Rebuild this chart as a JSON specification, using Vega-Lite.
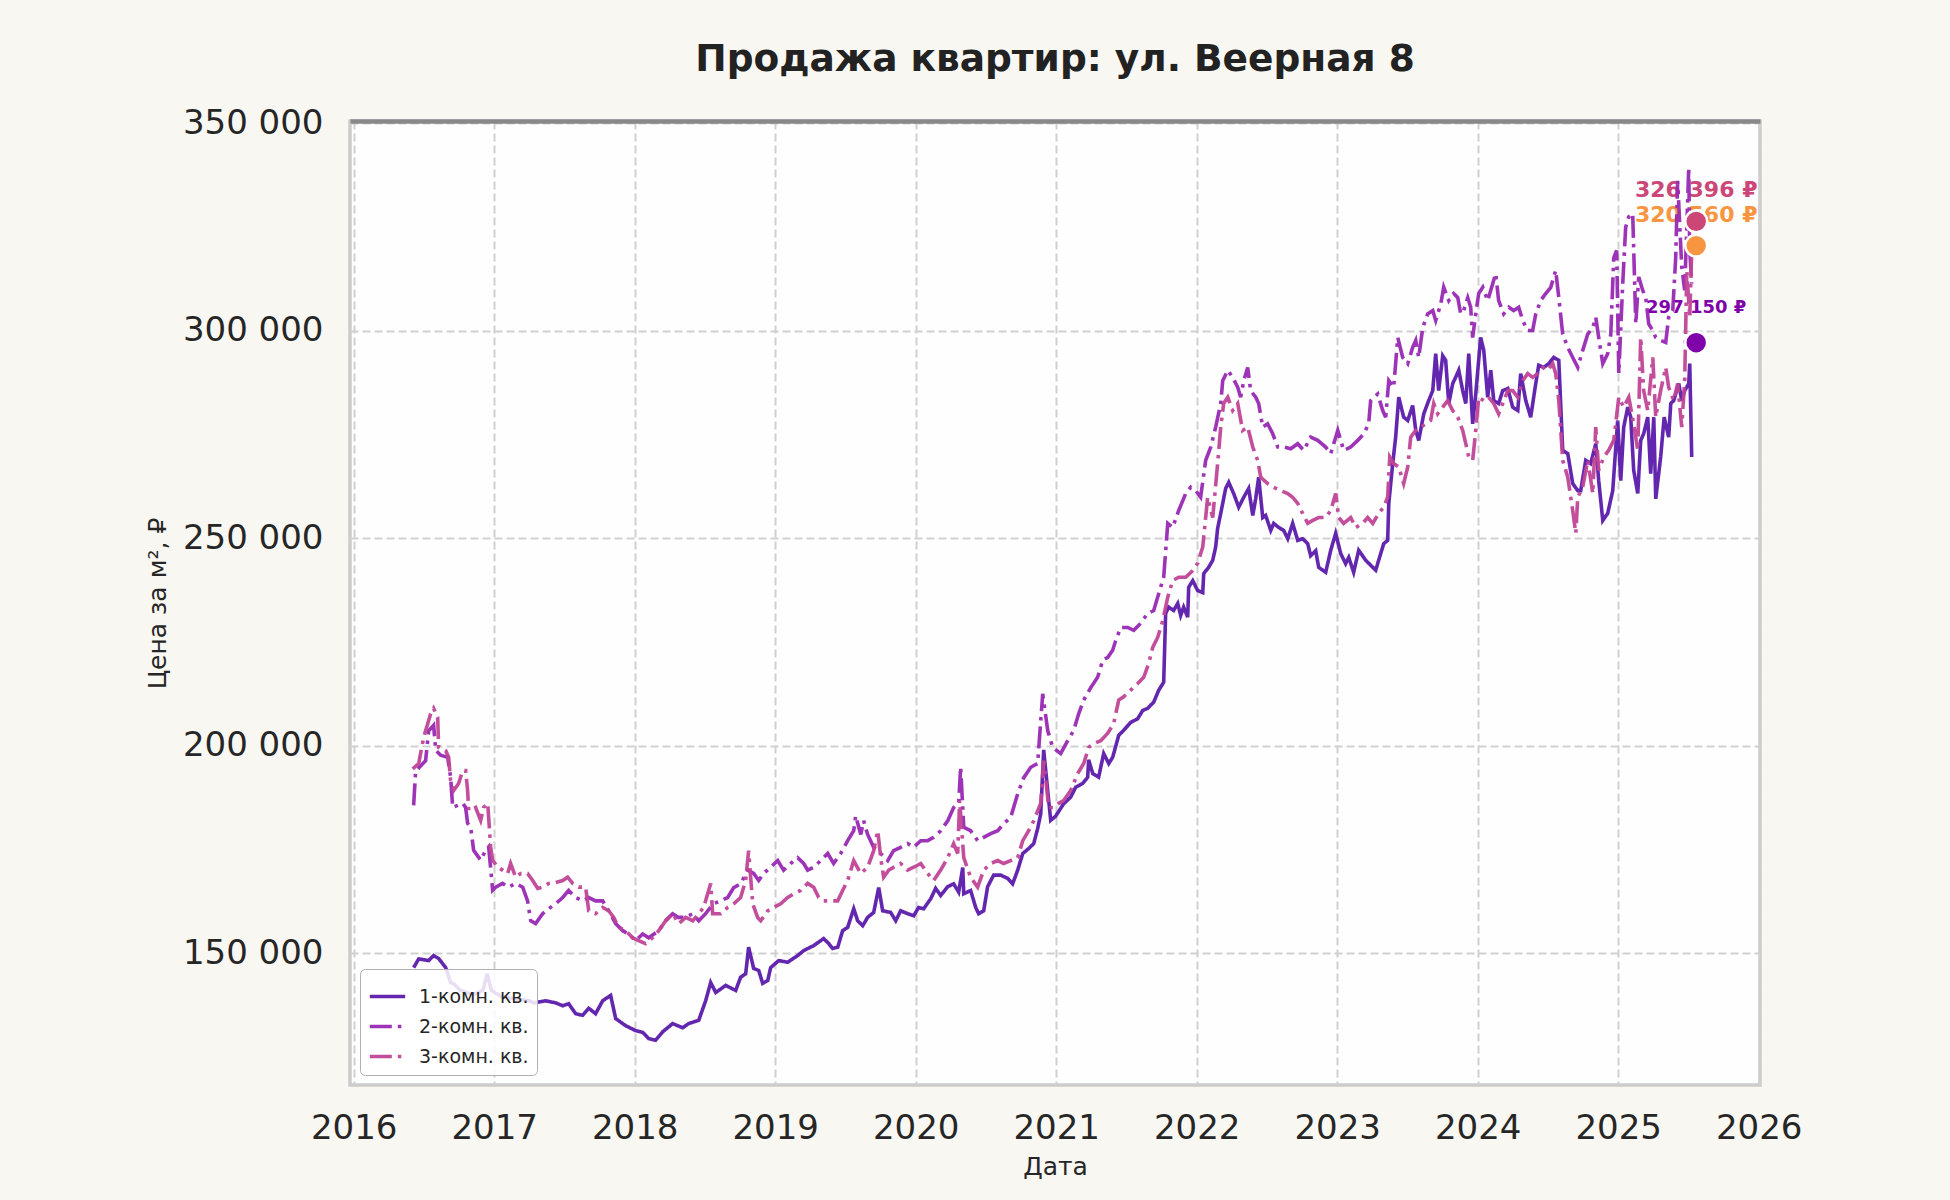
{
"$schema":"https://vega.github.io/schema/vega-lite/v6.json",
"width":1410,"height":964,
"autosize":{"type":"none"},
"padding":{"left":350,"top":121,"right":190,"bottom":115},
"background":"#f8f7f2",
"config":{
 "font":"DejaVu Sans",
 "locale":{"number":{"decimal":".","thousands":" ","grouping":[3],"currency":["","₽"]}},
 "view":{"fill":"#fefefe","stroke":"#cccccc","strokeWidth":3.5},
 "axis":{"domain":false,"ticks":false,"labelFont":"DejaVu Sans","labelColor":"#262626","labelFontSize":34,"titleFont":"DejaVu Sans","titleFontSize":25,"titleFontWeight":"normal","titleColor":"#262626"},
 "legend":{"orient":"bottom-left","offset":10,"symbolType":"stroke","symbolSize":1250,"symbolStrokeWidth":3.4,"labelFontSize":19,"labelFont":"DejaVu Sans","labelColor":"#262626","fillColor":"rgba(255,255,255,0.85)","strokeColor":"#b0b0b0","padding":8,"cornerRadius":5,"rowPadding":0,"labelOffset":12}
},
"title":{"text":"Продажа квартир: ул. Веерная 8","font":"DejaVu Sans","fontSize":37.5,"fontWeight":"bold","color":"#222222","anchor":"middle","frame":"group","baseline":"alphabetic","offset":-2},
"datasets":{
"last":[
{"year":2025.555,"price":326396,"label":"326 396 ₽"},
{"year":2025.555,"price":320560,"label":"320 560 ₽"},
{"year":2025.555,"price":297150,"label":"297 150 ₽"}
],
"prices":[
{"series":"1-комн. кв.","year":2016.427,"price":146500},
{"series":"1-комн. кв.","year":2016.463,"price":148600},
{"series":"1-комн. кв.","year":2016.534,"price":148200},
{"series":"1-комн. кв.","year":2016.569,"price":149400},
{"series":"1-комн. кв.","year":2016.605,"price":148700},
{"series":"1-комн. кв.","year":2016.655,"price":146500},
{"series":"1-комн. кв.","year":2016.69,"price":142900},
{"series":"1-комн. кв.","year":2016.712,"price":142600},
{"series":"1-комн. кв.","year":2016.76,"price":141000},
{"series":"1-комн. кв.","year":2016.85,"price":140000},
{"series":"1-комн. кв.","year":2016.92,"price":141000},
{"series":"1-комн. кв.","year":2016.95,"price":145000},
{"series":"1-комн. кв.","year":2016.98,"price":141000},
{"series":"1-комн. кв.","year":2017.05,"price":139500},
{"series":"1-комн. кв.","year":2017.15,"price":139000},
{"series":"1-комн. кв.","year":2017.25,"price":138500},
{"series":"1-комн. кв.","year":2017.281,"price":138000},
{"series":"1-комн. кв.","year":2017.367,"price":138500},
{"series":"1-комн. кв.","year":2017.438,"price":138000},
{"series":"1-комн. кв.","year":2017.488,"price":137300},
{"series":"1-комн. кв.","year":2017.53,"price":137800},
{"series":"1-комн. кв.","year":2017.58,"price":135400},
{"series":"1-комн. кв.","year":2017.63,"price":135000},
{"series":"1-комн. кв.","year":2017.673,"price":136700},
{"series":"1-комн. кв.","year":2017.722,"price":135400},
{"series":"1-комн. кв.","year":2017.772,"price":138500},
{"series":"1-комн. кв.","year":2017.829,"price":139800},
{"series":"1-комн. кв.","year":2017.865,"price":134200},
{"series":"1-комн. кв.","year":2017.936,"price":132500},
{"series":"1-комн. кв.","year":2018.007,"price":131300},
{"series":"1-комн. кв.","year":2018.057,"price":130900},
{"series":"1-комн. кв.","year":2018.1,"price":129400},
{"series":"1-комн. кв.","year":2018.149,"price":129000},
{"series":"1-комн. кв.","year":2018.199,"price":131000},
{"series":"1-комн. кв.","year":2018.27,"price":133000},
{"series":"1-комн. кв.","year":2018.342,"price":132000},
{"series":"1-комн. кв.","year":2018.384,"price":133000},
{"series":"1-комн. кв.","year":2018.456,"price":133800},
{"series":"1-комн. кв.","year":2018.505,"price":138500},
{"series":"1-комн. кв.","year":2018.541,"price":142900},
{"series":"1-комн. кв.","year":2018.577,"price":140500},
{"series":"1-комн. кв.","year":2018.648,"price":142200},
{"series":"1-комн. кв.","year":2018.719,"price":141000},
{"series":"1-комн. кв.","year":2018.754,"price":144200},
{"series":"1-комн. кв.","year":2018.79,"price":145000},
{"series":"1-комн. кв.","year":2018.811,"price":151400},
{"series":"1-комн. кв.","year":2018.847,"price":146300},
{"series":"1-комн. кв.","year":2018.883,"price":145800},
{"series":"1-комн. кв.","year":2018.911,"price":142700},
{"series":"1-комн. кв.","year":2018.947,"price":143400},
{"series":"1-комн. кв.","year":2018.968,"price":146500},
{"series":"1-комн. кв.","year":2019.025,"price":148200},
{"series":"1-комн. кв.","year":2019.089,"price":147800},
{"series":"1-комн. кв.","year":2019.16,"price":149400},
{"series":"1-комн. кв.","year":2019.203,"price":150600},
{"series":"1-комн. кв.","year":2019.274,"price":151800},
{"series":"1-комн. кв.","year":2019.345,"price":153500},
{"series":"1-комн. кв.","year":2019.381,"price":152300},
{"series":"1-комн. кв.","year":2019.409,"price":151100},
{"series":"1-комн. кв.","year":2019.445,"price":151400},
{"series":"1-комн. кв.","year":2019.48,"price":155400},
{"series":"1-комн. кв.","year":2019.516,"price":156200},
{"series":"1-комн. кв.","year":2019.559,"price":160700},
{"series":"1-комн. кв.","year":2019.587,"price":157800},
{"series":"1-комн. кв.","year":2019.623,"price":156600},
{"series":"1-комн. кв.","year":2019.658,"price":158600},
{"series":"1-комн. кв.","year":2019.701,"price":159800},
{"series":"1-комн. кв.","year":2019.737,"price":165800},
{"series":"1-комн. кв.","year":2019.765,"price":160200},
{"series":"1-комн. кв.","year":2019.822,"price":159800},
{"series":"1-комн. кв.","year":2019.858,"price":157800},
{"series":"1-комн. кв.","year":2019.893,"price":160200},
{"series":"1-комн. кв.","year":2019.943,"price":159500},
{"series":"1-комн. кв.","year":2019.986,"price":159000},
{"series":"1-комн. кв.","year":2020.021,"price":161000},
{"series":"1-комн. кв.","year":2020.057,"price":160700},
{"series":"1-комн. кв.","year":2020.107,"price":163100},
{"series":"1-комн. кв.","year":2020.142,"price":165600},
{"series":"1-комн. кв.","year":2020.178,"price":163900},
{"series":"1-комн. кв.","year":2020.228,"price":166000},
{"series":"1-комн. кв.","year":2020.27,"price":166700},
{"series":"1-комн. кв.","year":2020.306,"price":164700},
{"series":"1-комн. кв.","year":2020.335,"price":170600},
{"series":"1-комн. кв.","year":2020.342,"price":164300},
{"series":"1-комн. кв.","year":2020.391,"price":165100},
{"series":"1-комн. кв.","year":2020.427,"price":161000},
{"series":"1-комн. кв.","year":2020.448,"price":159500},
{"series":"1-комн. кв.","year":2020.484,"price":160200},
{"series":"1-комн. кв.","year":2020.512,"price":166000},
{"series":"1-комн. кв.","year":2020.555,"price":168800},
{"series":"1-комн. кв.","year":2020.605,"price":168800},
{"series":"1-комн. кв.","year":2020.655,"price":168000},
{"series":"1-комн. кв.","year":2020.69,"price":166700},
{"series":"1-комн. кв.","year":2020.726,"price":170000},
{"series":"1-комн. кв.","year":2020.762,"price":174000},
{"series":"1-комн. кв.","year":2020.804,"price":175200},
{"series":"1-комн. кв.","year":2020.84,"price":176400},
{"series":"1-комн. кв.","year":2020.868,"price":180000},
{"series":"1-комн. кв.","year":2020.89,"price":183600},
{"series":"1-комн. кв.","year":2020.911,"price":199000},
{"series":"1-комн. кв.","year":2020.94,"price":189000},
{"series":"1-комн. кв.","year":2020.961,"price":182000},
{"series":"1-комн. кв.","year":2020.996,"price":183000},
{"series":"1-комн. кв.","year":2021.053,"price":186000},
{"series":"1-комн. кв.","year":2021.103,"price":187600},
{"series":"1-комн. кв.","year":2021.139,"price":190000},
{"series":"1-комн. кв.","year":2021.189,"price":190900},
{"series":"1-комн. кв.","year":2021.224,"price":192400},
{"series":"1-комн. кв.","year":2021.231,"price":196600},
{"series":"1-комн. кв.","year":2021.26,"price":193300},
{"series":"1-комн. кв.","year":2021.302,"price":192400},
{"series":"1-комн. кв.","year":2021.338,"price":198100},
{"series":"1-комн. кв.","year":2021.374,"price":195700},
{"series":"1-комн. кв.","year":2021.402,"price":197200},
{"series":"1-комн. кв.","year":2021.445,"price":202500},
{"series":"1-комн. кв.","year":2021.48,"price":203700},
{"series":"1-комн. кв.","year":2021.53,"price":205600},
{"series":"1-комн. кв.","year":2021.58,"price":206500},
{"series":"1-комн. кв.","year":2021.616,"price":208500},
{"series":"1-комн. кв.","year":2021.651,"price":209000},
{"series":"1-комн. кв.","year":2021.694,"price":210500},
{"series":"1-комн. кв.","year":2021.73,"price":213400},
{"series":"1-комн. кв.","year":2021.765,"price":215300},
{"series":"1-комн. кв.","year":2021.779,"price":231900},
{"series":"1-комн. кв.","year":2021.801,"price":233400},
{"series":"1-комн. кв.","year":2021.836,"price":232600},
{"series":"1-комн. кв.","year":2021.865,"price":234300},
{"series":"1-комн. кв.","year":2021.886,"price":231400},
{"series":"1-комн. кв.","year":2021.907,"price":233400},
{"series":"1-комн. кв.","year":2021.936,"price":231000},
{"series":"1-комн. кв.","year":2021.943,"price":238200},
{"series":"1-комн. кв.","year":2021.972,"price":239800},
{"series":"1-комн. кв.","year":2022.007,"price":237400},
{"series":"1-комн. кв.","year":2022.043,"price":236900},
{"series":"1-комн. кв.","year":2022.05,"price":241500},
{"series":"1-комн. кв.","year":2022.085,"price":243000},
{"series":"1-комн. кв.","year":2022.114,"price":244700},
{"series":"1-комн. кв.","year":2022.135,"price":247900},
{"series":"1-комн. кв.","year":2022.149,"price":252400},
{"series":"1-комн. кв.","year":2022.171,"price":256000},
{"series":"1-комн. кв.","year":2022.206,"price":262000},
{"series":"1-комн. кв.","year":2022.228,"price":263500},
{"series":"1-комн. кв.","year":2022.263,"price":260800},
{"series":"1-комн. кв.","year":2022.299,"price":257500},
{"series":"1-комн. кв.","year":2022.335,"price":259900},
{"series":"1-комн. кв.","year":2022.37,"price":262000},
{"series":"1-комн. кв.","year":2022.399,"price":255500},
{"series":"1-комн. кв.","year":2022.42,"price":259600},
{"series":"1-комн. кв.","year":2022.441,"price":264700},
{"series":"1-комн. кв.","year":2022.47,"price":255000},
{"series":"1-комн. кв.","year":2022.491,"price":255500},
{"series":"1-комн. кв.","year":2022.527,"price":251900},
{"series":"1-комн. кв.","year":2022.548,"price":253600},
{"series":"1-комн. кв.","year":2022.584,"price":252600},
{"series":"1-комн. кв.","year":2022.619,"price":251900},
{"series":"1-комн. кв.","year":2022.648,"price":249900},
{"series":"1-комн. кв.","year":2022.683,"price":253600},
{"series":"1-комн. кв.","year":2022.719,"price":249500},
{"series":"1-комн. кв.","year":2022.754,"price":249900},
{"series":"1-комн. кв.","year":2022.79,"price":248700},
{"series":"1-комн. кв.","year":2022.811,"price":245800},
{"series":"1-комн. кв.","year":2022.847,"price":247000},
{"series":"1-комн. кв.","year":2022.868,"price":243000},
{"series":"1-комн. кв.","year":2022.918,"price":241800},
{"series":"1-комн. кв.","year":2022.954,"price":247100},
{"series":"1-комн. кв.","year":2022.989,"price":251200},
{"series":"1-комн. кв.","year":2023.025,"price":246300},
{"series":"1-комн. кв.","year":2023.06,"price":243900},
{"series":"1-комн. кв.","year":2023.082,"price":245400},
{"series":"1-комн. кв.","year":2023.117,"price":241800},
{"series":"1-комн. кв.","year":2023.153,"price":247100},
{"series":"1-комн. кв.","year":2023.203,"price":244700},
{"series":"1-комн. кв.","year":2023.238,"price":243500},
{"series":"1-комн. кв.","year":2023.274,"price":242300},
{"series":"1-комн. кв.","year":2023.295,"price":244700},
{"series":"1-комн. кв.","year":2023.331,"price":248700},
{"series":"1-комн. кв.","year":2023.359,"price":249500},
{"series":"1-комн. кв.","year":2023.367,"price":258400},
{"series":"1-комн. кв.","year":2023.395,"price":268000},
{"series":"1-комн. кв.","year":2023.416,"price":274400},
{"series":"1-комн. кв.","year":2023.438,"price":284000},
{"series":"1-комн. кв.","year":2023.473,"price":279200},
{"series":"1-комн. кв.","year":2023.502,"price":278400},
{"series":"1-комн. кв.","year":2023.537,"price":282000},
{"series":"1-комн. кв.","year":2023.559,"price":276000},
{"series":"1-комн. кв.","year":2023.58,"price":273600},
{"series":"1-комн. кв.","year":2023.616,"price":280000},
{"series":"1-комн. кв.","year":2023.651,"price":283200},
{"series":"1-комн. кв.","year":2023.68,"price":285600},
{"series":"1-комн. кв.","year":2023.701,"price":294500},
{"series":"1-комн. кв.","year":2023.722,"price":285600},
{"series":"1-комн. кв.","year":2023.751,"price":294000},
{"series":"1-комн. кв.","year":2023.772,"price":292900},
{"series":"1-комн. кв.","year":2023.794,"price":282500},
{"series":"1-комн. кв.","year":2023.822,"price":287300},
{"series":"1-комн. кв.","year":2023.843,"price":288800},
{"series":"1-комн. кв.","year":2023.865,"price":290500},
{"series":"1-комн. кв.","year":2023.893,"price":285600},
{"series":"1-комн. кв.","year":2023.915,"price":282500},
{"series":"1-комн. кв.","year":2023.936,"price":294500},
{"series":"1-комн. кв.","year":2023.964,"price":277600},
{"series":"1-комн. кв.","year":2023.986,"price":284800},
{"series":"1-комн. кв.","year":2024.021,"price":298400},
{"series":"1-комн. кв.","year":2024.043,"price":295300},
{"series":"1-комн. кв.","year":2024.071,"price":284000},
{"series":"1-комн. кв.","year":2024.093,"price":290500},
{"series":"1-комн. кв.","year":2024.114,"price":283200},
{"series":"1-комн. кв.","year":2024.149,"price":282500},
{"series":"1-комн. кв.","year":2024.178,"price":285600},
{"series":"1-комн. кв.","year":2024.214,"price":286100},
{"series":"1-комн. кв.","year":2024.249,"price":281600},
{"series":"1-комн. кв.","year":2024.285,"price":280800},
{"series":"1-комн. кв.","year":2024.306,"price":289700},
{"series":"1-комн. кв.","year":2024.342,"price":283200},
{"series":"1-комн. кв.","year":2024.377,"price":279200},
{"series":"1-комн. кв.","year":2024.413,"price":287300},
{"series":"1-комн. кв.","year":2024.434,"price":291700},
{"series":"1-комн. кв.","year":2024.47,"price":291200},
{"series":"1-комн. кв.","year":2024.505,"price":292100},
{"series":"1-комн. кв.","year":2024.541,"price":293600},
{"series":"1-комн. кв.","year":2024.577,"price":292900},
{"series":"1-комн. кв.","year":2024.605,"price":271200},
{"series":"1-комн. кв.","year":2024.641,"price":270400},
{"series":"1-комн. кв.","year":2024.676,"price":263200},
{"series":"1-комн. кв.","year":2024.712,"price":261500},
{"series":"1-комн. кв.","year":2024.733,"price":261500},
{"series":"1-комн. кв.","year":2024.769,"price":268800},
{"series":"1-комн. кв.","year":2024.804,"price":268000},
{"series":"1-комн. кв.","year":2024.84,"price":272800},
{"series":"1-комн. кв.","year":2024.861,"price":263900},
{"series":"1-комн. кв.","year":2024.89,"price":254300},
{"series":"1-комн. кв.","year":2024.925,"price":256000},
{"series":"1-комн. кв.","year":2024.961,"price":261500},
{"series":"1-комн. кв.","year":2024.996,"price":278400},
{"series":"1-комн. кв.","year":2025.018,"price":263900},
{"series":"1-комн. кв.","year":2025.039,"price":276800},
{"series":"1-комн. кв.","year":2025.068,"price":281600},
{"series":"1-комн. кв.","year":2025.089,"price":279200},
{"series":"1-комн. кв.","year":2025.11,"price":266400},
{"series":"1-комн. кв.","year":2025.139,"price":260800},
{"series":"1-комн. кв.","year":2025.16,"price":273600},
{"series":"1-комн. кв.","year":2025.181,"price":275200},
{"series":"1-комн. кв.","year":2025.21,"price":279200},
{"series":"1-комн. кв.","year":2025.231,"price":265600},
{"series":"1-комн. кв.","year":2025.253,"price":279200},
{"series":"1-комн. кв.","year":2025.267,"price":259500},
{"series":"1-комн. кв.","year":2025.302,"price":269600},
{"series":"1-комн. кв.","year":2025.327,"price":279200},
{"series":"1-комн. кв.","year":2025.359,"price":274400},
{"series":"1-комн. кв.","year":2025.374,"price":282500},
{"series":"1-комн. кв.","year":2025.395,"price":283200},
{"series":"1-комн. кв.","year":2025.431,"price":287300},
{"series":"1-комн. кв.","year":2025.452,"price":283200},
{"series":"1-комн. кв.","year":2025.473,"price":285600},
{"series":"1-комн. кв.","year":2025.502,"price":287300},
{"series":"1-комн. кв.","year":2025.509,"price":292100},
{"series":"1-комн. кв.","year":2025.523,"price":269600},
{"series":"2-комн. кв.","year":2016.427,"price":185600},
{"series":"2-комн. кв.","year":2016.441,"price":193800},
{"series":"2-комн. кв.","year":2016.512,"price":196400},
{"series":"2-комн. кв.","year":2016.534,"price":203600},
{"series":"2-комн. кв.","year":2016.569,"price":204900},
{"series":"2-комн. кв.","year":2016.584,"price":198900},
{"series":"2-комн. кв.","year":2016.619,"price":197700},
{"series":"2-комн. кв.","year":2016.669,"price":197200},
{"series":"2-комн. кв.","year":2016.69,"price":192400},
{"series":"2-комн. кв.","year":2016.705,"price":185100},
{"series":"2-комн. кв.","year":2016.74,"price":185600},
{"series":"2-комн. кв.","year":2016.776,"price":186100},
{"series":"2-комн. кв.","year":2016.797,"price":185100},
{"series":"2-комн. кв.","year":2016.811,"price":181300},
{"series":"2-комн. кв.","year":2016.833,"price":180300},
{"series":"2-комн. кв.","year":2016.854,"price":174800},
{"series":"2-комн. кв.","year":2016.904,"price":172400},
{"series":"2-комн. кв.","year":2016.94,"price":174800},
{"series":"2-комн. кв.","year":2016.961,"price":175600},
{"series":"2-комн. кв.","year":2016.989,"price":165200},
{"series":"2-комн. кв.","year":2017.011,"price":165900},
{"series":"2-комн. кв.","year":2017.06,"price":166800},
{"series":"2-комн. кв.","year":2017.103,"price":165900},
{"series":"2-комн. кв.","year":2017.153,"price":166800},
{"series":"2-комн. кв.","year":2017.203,"price":165900},
{"series":"2-комн. кв.","year":2017.238,"price":162600},
{"series":"2-комн. кв.","year":2017.26,"price":157800},
{"series":"2-комн. кв.","year":2017.295,"price":157100},
{"series":"2-комн. кв.","year":2017.345,"price":159500},
{"series":"2-комн. кв.","year":2017.388,"price":160700},
{"series":"2-комн. кв.","year":2017.438,"price":161900},
{"series":"2-комн. кв.","year":2017.488,"price":163400},
{"series":"2-комн. кв.","year":2017.53,"price":165100},
{"series":"2-комн. кв.","year":2017.58,"price":163400},
{"series":"2-комн. кв.","year":2017.63,"price":162600},
{"series":"2-комн. кв.","year":2017.673,"price":163400},
{"series":"2-комн. кв.","year":2017.722,"price":162600},
{"series":"2-комн. кв.","year":2017.772,"price":162600},
{"series":"2-комн. кв.","year":2017.815,"price":160200},
{"series":"2-комн. кв.","year":2017.865,"price":157100},
{"series":"2-комн. кв.","year":2017.915,"price":155400},
{"series":"2-комн. кв.","year":2017.957,"price":154600},
{"series":"2-комн. кв.","year":2018.007,"price":153000},
{"series":"2-комн. кв.","year":2018.057,"price":154600},
{"series":"2-комн. кв.","year":2018.1,"price":153700},
{"series":"2-комн. кв.","year":2018.171,"price":155400},
{"series":"2-комн. кв.","year":2018.221,"price":157800},
{"series":"2-комн. кв.","year":2018.27,"price":159500},
{"series":"2-комн. кв.","year":2018.313,"price":158600},
{"series":"2-комн. кв.","year":2018.363,"price":158600},
{"series":"2-комн. кв.","year":2018.413,"price":159500},
{"series":"2-комн. кв.","year":2018.456,"price":157800},
{"series":"2-комн. кв.","year":2018.505,"price":159500},
{"series":"2-комн. кв.","year":2018.52,"price":160200},
{"series":"2-комн. кв.","year":2018.562,"price":161900},
{"series":"2-комн. кв.","year":2018.612,"price":162600},
{"series":"2-комн. кв.","year":2018.662,"price":163400},
{"series":"2-комн. кв.","year":2018.705,"price":165800},
{"series":"2-комн. кв.","year":2018.754,"price":166700},
{"series":"2-комн. кв.","year":2018.804,"price":170000},
{"series":"2-комн. кв.","year":2018.847,"price":169200},
{"series":"2-комн. кв.","year":2018.883,"price":167500},
{"series":"2-комн. кв.","year":2018.918,"price":169200},
{"series":"2-комн. кв.","year":2018.968,"price":170700},
{"series":"2-комн. кв.","year":2019.018,"price":172300},
{"series":"2-комн. кв.","year":2019.06,"price":170000},
{"series":"2-комн. кв.","year":2019.11,"price":171600},
{"series":"2-комн. кв.","year":2019.16,"price":173000},
{"series":"2-комн. кв.","year":2019.203,"price":171600},
{"series":"2-комн. кв.","year":2019.231,"price":170000},
{"series":"2-комн. кв.","year":2019.274,"price":170700},
{"series":"2-комн. кв.","year":2019.324,"price":172300},
{"series":"2-комн. кв.","year":2019.374,"price":174000},
{"series":"2-комн. кв.","year":2019.416,"price":171600},
{"series":"2-комн. кв.","year":2019.466,"price":174000},
{"series":"2-комн. кв.","year":2019.516,"price":177100},
{"series":"2-комн. кв.","year":2019.559,"price":179500},
{"series":"2-комн. кв.","year":2019.573,"price":183100},
{"series":"2-комн. кв.","year":2019.609,"price":178600},
{"series":"2-комн. кв.","year":2019.63,"price":181900},
{"series":"2-комн. кв.","year":2019.658,"price":178600},
{"series":"2-комн. кв.","year":2019.701,"price":175500},
{"series":"2-комн. кв.","year":2019.751,"price":174000},
{"series":"2-комн. кв.","year":2019.801,"price":172300},
{"series":"2-комн. кв.","year":2019.843,"price":174700},
{"series":"2-комн. кв.","year":2019.893,"price":175500},
{"series":"2-комн. кв.","year":2019.943,"price":176400},
{"series":"2-комн. кв.","year":2019.986,"price":175500},
{"series":"2-комн. кв.","year":2020.036,"price":177100},
{"series":"2-комн. кв.","year":2020.085,"price":177100},
{"series":"2-комн. кв.","year":2020.128,"price":177900},
{"series":"2-комн. кв.","year":2020.178,"price":179500},
{"series":"2-комн. кв.","year":2020.228,"price":181900},
{"series":"2-комн. кв.","year":2020.27,"price":185100},
{"series":"2-комн. кв.","year":2020.306,"price":186100},
{"series":"2-комн. кв.","year":2020.32,"price":194900},
{"series":"2-комн. кв.","year":2020.342,"price":180300},
{"series":"2-комн. кв.","year":2020.391,"price":179500},
{"series":"2-комн. кв.","year":2020.441,"price":177100},
{"series":"2-комн. кв.","year":2020.484,"price":177900},
{"series":"2-комн. кв.","year":2020.534,"price":178800},
{"series":"2-комн. кв.","year":2020.584,"price":179500},
{"series":"2-комн. кв.","year":2020.626,"price":181200},
{"series":"2-комн. кв.","year":2020.676,"price":182700},
{"series":"2-комн. кв.","year":2020.726,"price":188400},
{"series":"2-комн. кв.","year":2020.769,"price":192300},
{"series":"2-комн. кв.","year":2020.819,"price":194800},
{"series":"2-комн. кв.","year":2020.868,"price":195700},
{"series":"2-комн. кв.","year":2020.904,"price":212500},
{"series":"2-комн. кв.","year":2020.94,"price":203600},
{"series":"2-комн. кв.","year":2020.975,"price":199600},
{"series":"2-комн. кв.","year":2021.032,"price":198100},
{"series":"2-комн. кв.","year":2021.082,"price":201200},
{"series":"2-комн. кв.","year":2021.125,"price":203700},
{"series":"2-комн. кв.","year":2021.16,"price":207700},
{"series":"2-комн. кв.","year":2021.196,"price":211000},
{"series":"2-комн. кв.","year":2021.246,"price":214000},
{"series":"2-комн. кв.","year":2021.295,"price":216500},
{"series":"2-комн. кв.","year":2021.331,"price":220600},
{"series":"2-комн. кв.","year":2021.367,"price":221300},
{"series":"2-комн. кв.","year":2021.402,"price":223000},
{"series":"2-комн. кв.","year":2021.423,"price":225300},
{"series":"2-комн. кв.","year":2021.459,"price":228500},
{"series":"2-комн. кв.","year":2021.509,"price":228500},
{"series":"2-комн. кв.","year":2021.552,"price":227800},
{"series":"2-комн. кв.","year":2021.601,"price":229500},
{"series":"2-комн. кв.","year":2021.651,"price":231900},
{"series":"2-комн. кв.","year":2021.694,"price":232600},
{"series":"2-комн. кв.","year":2021.73,"price":236700},
{"series":"2-комн. кв.","year":2021.765,"price":240600},
{"series":"2-комн. кв.","year":2021.794,"price":253600},
{"series":"2-комн. кв.","year":2021.829,"price":252600},
{"series":"2-комн. кв.","year":2021.872,"price":256700},
{"series":"2-комн. кв.","year":2021.922,"price":260800},
{"series":"2-комн. кв.","year":2021.957,"price":262300},
{"series":"2-комн. кв.","year":2021.993,"price":261500},
{"series":"2-комн. кв.","year":2022.028,"price":259900},
{"series":"2-комн. кв.","year":2022.064,"price":268800},
{"series":"2-комн. кв.","year":2022.1,"price":272000},
{"series":"2-комн. кв.","year":2022.135,"price":276800},
{"series":"2-комн. кв.","year":2022.171,"price":282500},
{"series":"2-комн. кв.","year":2022.185,"price":288000},
{"series":"2-комн. кв.","year":2022.221,"price":290500},
{"series":"2-комн. кв.","year":2022.256,"price":288800},
{"series":"2-комн. кв.","year":2022.292,"price":286400},
{"series":"2-комн. кв.","year":2022.313,"price":284000},
{"series":"2-комн. кв.","year":2022.335,"price":288000},
{"series":"2-комн. кв.","year":2022.363,"price":291200},
{"series":"2-комн. кв.","year":2022.384,"price":285600},
{"series":"2-комн. кв.","year":2022.42,"price":284000},
{"series":"2-комн. кв.","year":2022.441,"price":282500},
{"series":"2-комн. кв.","year":2022.47,"price":276800},
{"series":"2-комн. кв.","year":2022.505,"price":277600},
{"series":"2-комн. кв.","year":2022.541,"price":275200},
{"series":"2-комн. кв.","year":2022.577,"price":272000},
{"series":"2-комн. кв.","year":2022.619,"price":272000},
{"series":"2-комн. кв.","year":2022.669,"price":271600},
{"series":"2-комн. кв.","year":2022.719,"price":272800},
{"series":"2-комн. кв.","year":2022.762,"price":271200},
{"series":"2-комн. кв.","year":2022.811,"price":274400},
{"series":"2-комн. кв.","year":2022.861,"price":273600},
{"series":"2-комн. кв.","year":2022.918,"price":272000},
{"series":"2-комн. кв.","year":2022.954,"price":270400},
{"series":"2-комн. кв.","year":2023.004,"price":276000},
{"series":"2-комн. кв.","year":2023.046,"price":271200},
{"series":"2-комн. кв.","year":2023.096,"price":272000},
{"series":"2-комн. кв.","year":2023.146,"price":273600},
{"series":"2-комн. кв.","year":2023.189,"price":275200},
{"series":"2-комн. кв.","year":2023.224,"price":277600},
{"series":"2-комн. кв.","year":2023.238,"price":283200},
{"series":"2-комн. кв.","year":2023.288,"price":284800},
{"series":"2-комн. кв.","year":2023.324,"price":280800},
{"series":"2-комн. кв.","year":2023.345,"price":279200},
{"series":"2-комн. кв.","year":2023.367,"price":288000},
{"series":"2-комн. кв.","year":2023.402,"price":286400},
{"series":"2-комн. кв.","year":2023.431,"price":298400},
{"series":"2-комн. кв.","year":2023.466,"price":293600},
{"series":"2-комн. кв.","year":2023.502,"price":292100},
{"series":"2-комн. кв.","year":2023.537,"price":296000},
{"series":"2-комн. кв.","year":2023.559,"price":297700},
{"series":"2-комн. кв.","year":2023.58,"price":293600},
{"series":"2-комн. кв.","year":2023.609,"price":300800},
{"series":"2-комн. кв.","year":2023.644,"price":304100},
{"series":"2-комн. кв.","year":2023.68,"price":304900},
{"series":"2-комн. кв.","year":2023.701,"price":302500},
{"series":"2-комн. кв.","year":2023.737,"price":306500},
{"series":"2-комн. кв.","year":2023.758,"price":310500},
{"series":"2-комн. кв.","year":2023.794,"price":307300},
{"series":"2-комн. кв.","year":2023.829,"price":309000},
{"series":"2-комн. кв.","year":2023.858,"price":308000},
{"series":"2-комн. кв.","year":2023.879,"price":304100},
{"series":"2-комн. кв.","year":2023.9,"price":304900},
{"series":"2-комн. кв.","year":2023.929,"price":308000},
{"series":"2-комн. кв.","year":2023.95,"price":305700},
{"series":"2-комн. кв.","year":2023.964,"price":298400},
{"series":"2-комн. кв.","year":2023.986,"price":304100},
{"series":"2-комн. кв.","year":2024.007,"price":309000},
{"series":"2-комн. кв.","year":2024.036,"price":310500},
{"series":"2-комн. кв.","year":2024.071,"price":307300},
{"series":"2-комн. кв.","year":2024.107,"price":311400},
{"series":"2-комн. кв.","year":2024.128,"price":313800},
{"series":"2-комн. кв.","year":2024.149,"price":307300},
{"series":"2-комн. кв.","year":2024.185,"price":304100},
{"series":"2-комн. кв.","year":2024.221,"price":305700},
{"series":"2-комн. кв.","year":2024.256,"price":304900},
{"series":"2-комн. кв.","year":2024.292,"price":305700},
{"series":"2-комн. кв.","year":2024.32,"price":302500},
{"series":"2-комн. кв.","year":2024.356,"price":300100},
{"series":"2-комн. кв.","year":2024.391,"price":300100},
{"series":"2-комн. кв.","year":2024.413,"price":304100},
{"series":"2-комн. кв.","year":2024.448,"price":307300},
{"series":"2-комн. кв.","year":2024.484,"price":309000},
{"series":"2-комн. кв.","year":2024.52,"price":310500},
{"series":"2-комн. кв.","year":2024.555,"price":314600},
{"series":"2-комн. кв.","year":2024.577,"price":308000},
{"series":"2-комн. кв.","year":2024.605,"price":299200},
{"series":"2-комн. кв.","year":2024.641,"price":296000},
{"series":"2-комн. кв.","year":2024.676,"price":293600},
{"series":"2-комн. кв.","year":2024.712,"price":291200},
{"series":"2-комн. кв.","year":2024.747,"price":295300},
{"series":"2-комн. кв.","year":2024.783,"price":299200},
{"series":"2-комн. кв.","year":2024.819,"price":300800},
{"series":"2-комн. кв.","year":2024.84,"price":303300},
{"series":"2-комн. кв.","year":2024.861,"price":298400},
{"series":"2-комн. кв.","year":2024.89,"price":292100},
{"series":"2-комн. кв.","year":2024.925,"price":294500},
{"series":"2-комн. кв.","year":2024.947,"price":299200},
{"series":"2-комн. кв.","year":2024.968,"price":317600},
{"series":"2-комн. кв.","year":2024.989,"price":319400},
{"series":"2-комн. кв.","year":2025.004,"price":289700},
{"series":"2-комн. кв.","year":2025.032,"price":311400},
{"series":"2-комн. кв.","year":2025.053,"price":325000},
{"series":"2-комн. кв.","year":2025.075,"price":327500},
{"series":"2-комн. кв.","year":2025.103,"price":328300},
{"series":"2-комн. кв.","year":2025.125,"price":301700},
{"series":"2-комн. кв.","year":2025.146,"price":313000},
{"series":"2-комн. кв.","year":2025.174,"price":309800},
{"series":"2-комн. кв.","year":2025.196,"price":308000},
{"series":"2-комн. кв.","year":2025.217,"price":301700},
{"series":"2-комн. кв.","year":2025.246,"price":300100},
{"series":"2-комн. кв.","year":2025.267,"price":298400},
{"series":"2-комн. кв.","year":2025.302,"price":297700},
{"series":"2-комн. кв.","year":2025.338,"price":297200},
{"series":"2-комн. кв.","year":2025.359,"price":303300},
{"series":"2-комн. кв.","year":2025.388,"price":304900},
{"series":"2-комн. кв.","year":2025.409,"price":317600},
{"series":"2-комн. кв.","year":2025.423,"price":336200},
{"series":"2-комн. кв.","year":2025.452,"price":315400},
{"series":"2-комн. кв.","year":2025.473,"price":309800},
{"series":"2-комн. кв.","year":2025.502,"price":339400},
{"series":"2-комн. кв.","year":2025.509,"price":319400},
{"series":"2-комн. кв.","year":2025.523,"price":311400},
{"series":"3-комн. кв.","year":2016.42,"price":194400},
{"series":"3-комн. кв.","year":2016.463,"price":195700},
{"series":"3-комн. кв.","year":2016.498,"price":202000},
{"series":"3-комн. кв.","year":2016.527,"price":205300},
{"series":"3-комн. кв.","year":2016.548,"price":207700},
{"series":"3-комн. кв.","year":2016.569,"price":209000},
{"series":"3-комн. кв.","year":2016.598,"price":206800},
{"series":"3-комн. кв.","year":2016.605,"price":199600},
{"series":"3-комн. кв.","year":2016.655,"price":198800},
{"series":"3-комн. кв.","year":2016.676,"price":197200},
{"series":"3-комн. кв.","year":2016.69,"price":191600},
{"series":"3-комн. кв.","year":2016.712,"price":189200},
{"series":"3-комн. кв.","year":2016.747,"price":190900},
{"series":"3-комн. кв.","year":2016.776,"price":194000},
{"series":"3-комн. кв.","year":2016.797,"price":194000},
{"series":"3-комн. кв.","year":2016.811,"price":189200},
{"series":"3-комн. кв.","year":2016.819,"price":184400},
{"series":"3-комн. кв.","year":2016.868,"price":185100},
{"series":"3-комн. кв.","year":2016.904,"price":182000},
{"series":"3-комн. кв.","year":2016.925,"price":185100},
{"series":"3-комн. кв.","year":2016.954,"price":186100},
{"series":"3-комн. кв.","year":2016.975,"price":175600},
{"series":"3-комн. кв.","year":2016.989,"price":172400},
{"series":"3-комн. кв.","year":2017.025,"price":170700},
{"series":"3-комн. кв.","year":2017.06,"price":170000},
{"series":"3-комн. кв.","year":2017.096,"price":169200},
{"series":"3-комн. кв.","year":2017.117,"price":171600},
{"series":"3-комн. кв.","year":2017.153,"price":168300},
{"series":"3-комн. кв.","year":2017.189,"price":169200},
{"series":"3-комн. кв.","year":2017.238,"price":169200},
{"series":"3-комн. кв.","year":2017.274,"price":167500},
{"series":"3-комн. кв.","year":2017.31,"price":165600},
{"series":"3-комн. кв.","year":2017.345,"price":165900},
{"series":"3-комн. кв.","year":2017.388,"price":166800},
{"series":"3-комн. кв.","year":2017.438,"price":167000},
{"series":"3-комн. кв.","year":2017.488,"price":167500},
{"series":"3-комн. кв.","year":2017.523,"price":168300},
{"series":"3-комн. кв.","year":2017.559,"price":166800},
{"series":"3-комн. кв.","year":2017.601,"price":165900},
{"series":"3-комн. кв.","year":2017.651,"price":165900},
{"series":"3-комн. кв.","year":2017.673,"price":160200},
{"series":"3-комн. кв.","year":2017.722,"price":159500},
{"series":"3-комн. кв.","year":2017.772,"price":161000},
{"series":"3-комн. кв.","year":2017.815,"price":160200},
{"series":"3-комн. кв.","year":2017.851,"price":158600},
{"series":"3-комн. кв.","year":2017.886,"price":156200},
{"series":"3-комн. кв.","year":2017.936,"price":155400},
{"series":"3-комн. кв.","year":2017.986,"price":153700},
{"series":"3-комн. кв.","year":2018.028,"price":153000},
{"series":"3-комн. кв.","year":2018.078,"price":152300},
{"series":"3-комн. кв.","year":2018.128,"price":153700},
{"series":"3-комн. кв.","year":2018.171,"price":155400},
{"series":"3-комн. кв.","year":2018.221,"price":157800},
{"series":"3-комн. кв.","year":2018.27,"price":159500},
{"series":"3-комн. кв.","year":2018.313,"price":157100},
{"series":"3-комн. кв.","year":2018.363,"price":158600},
{"series":"3-комн. кв.","year":2018.413,"price":157800},
{"series":"3-комн. кв.","year":2018.456,"price":159500},
{"series":"3-комн. кв.","year":2018.491,"price":161000},
{"series":"3-комн. кв.","year":2018.541,"price":166800},
{"series":"3-комн. кв.","year":2018.555,"price":159500},
{"series":"3-комн. кв.","year":2018.612,"price":159500},
{"series":"3-комн. кв.","year":2018.662,"price":161000},
{"series":"3-комн. кв.","year":2018.705,"price":161900},
{"series":"3-комн. кв.","year":2018.754,"price":163400},
{"series":"3-комн. кв.","year":2018.79,"price":167500},
{"series":"3-комн. кв.","year":2018.811,"price":174700},
{"series":"3-комн. кв.","year":2018.84,"price":161900},
{"series":"3-комн. кв.","year":2018.875,"price":158600},
{"series":"3-комн. кв.","year":2018.897,"price":157800},
{"series":"3-комн. кв.","year":2018.947,"price":160200},
{"series":"3-комн. кв.","year":2018.989,"price":161000},
{"series":"3-комн. кв.","year":2019.039,"price":161900},
{"series":"3-комн. кв.","year":2019.089,"price":163400},
{"series":"3-комн. кв.","year":2019.132,"price":164300},
{"series":"3-комн. кв.","year":2019.181,"price":165100},
{"series":"3-комн. кв.","year":2019.231,"price":166800},
{"series":"3-комн. кв.","year":2019.274,"price":165900},
{"series":"3-комн. кв.","year":2019.31,"price":163400},
{"series":"3-комн. кв.","year":2019.345,"price":162600},
{"series":"3-комн. кв.","year":2019.395,"price":162600},
{"series":"3-комн. кв.","year":2019.445,"price":162600},
{"series":"3-комн. кв.","year":2019.48,"price":165100},
{"series":"3-комн. кв.","year":2019.516,"price":167500},
{"series":"3-комн. кв.","year":2019.559,"price":172300},
{"series":"3-комн. кв.","year":2019.609,"price":169200},
{"series":"3-комн. кв.","year":2019.658,"price":170700},
{"series":"3-комн. кв.","year":2019.701,"price":174700},
{"series":"3-комн. кв.","year":2019.73,"price":179500},
{"series":"3-комн. кв.","year":2019.751,"price":173000},
{"series":"3-комн. кв.","year":2019.772,"price":168300},
{"series":"3-комн. кв.","year":2019.808,"price":170000},
{"series":"3-комн. кв.","year":2019.843,"price":170700},
{"series":"3-комн. кв.","year":2019.893,"price":171600},
{"series":"3-комн. кв.","year":2019.943,"price":170000},
{"series":"3-комн. кв.","year":2019.986,"price":170700},
{"series":"3-комн. кв.","year":2020.036,"price":171600},
{"series":"3-комн. кв.","year":2020.085,"price":169200},
{"series":"3-комн. кв.","year":2020.128,"price":167500},
{"series":"3-комн. кв.","year":2020.178,"price":170000},
{"series":"3-комн. кв.","year":2020.228,"price":173000},
{"series":"3-комн. кв.","year":2020.27,"price":176400},
{"series":"3-комн. кв.","year":2020.299,"price":174000},
{"series":"3-комн. кв.","year":2020.313,"price":186800},
{"series":"3-комн. кв.","year":2020.342,"price":173000},
{"series":"3-комн. кв.","year":2020.391,"price":168300},
{"series":"3-комн. кв.","year":2020.441,"price":165900},
{"series":"3-комн. кв.","year":2020.484,"price":170000},
{"series":"3-комн. кв.","year":2020.534,"price":171600},
{"series":"3-комн. кв.","year":2020.584,"price":172300},
{"series":"3-комн. кв.","year":2020.626,"price":171600},
{"series":"3-комн. кв.","year":2020.676,"price":172300},
{"series":"3-комн. кв.","year":2020.726,"price":173000},
{"series":"3-комн. кв.","year":2020.762,"price":177100},
{"series":"3-комн. кв.","year":2020.804,"price":179500},
{"series":"3-комн. кв.","year":2020.84,"price":181900},
{"series":"3-комн. кв.","year":2020.89,"price":186100},
{"series":"3-комн. кв.","year":2020.911,"price":196400},
{"series":"3-комн. кв.","year":2020.947,"price":185100},
{"series":"3-комн. кв.","year":2020.982,"price":185100},
{"series":"3-комн. кв.","year":2021.018,"price":186100},
{"series":"3-комн. кв.","year":2021.053,"price":186800},
{"series":"3-комн. кв.","year":2021.103,"price":189200},
{"series":"3-комн. кв.","year":2021.153,"price":193300},
{"series":"3-комн. кв.","year":2021.196,"price":195700},
{"series":"3-комн. кв.","year":2021.231,"price":199600},
{"series":"3-комн. кв.","year":2021.267,"price":200500},
{"series":"3-комн. кв.","year":2021.317,"price":201200},
{"series":"3-комн. кв.","year":2021.367,"price":203000},
{"series":"3-комн. кв.","year":2021.409,"price":205300},
{"series":"3-комн. кв.","year":2021.445,"price":211000},
{"series":"3-комн. кв.","year":2021.48,"price":211800},
{"series":"3-комн. кв.","year":2021.53,"price":213400},
{"series":"3-комн. кв.","year":2021.58,"price":215000},
{"series":"3-комн. кв.","year":2021.623,"price":216500},
{"series":"3-комн. кв.","year":2021.658,"price":219800},
{"series":"3-комн. кв.","year":2021.687,"price":223700},
{"series":"3-комн. кв.","year":2021.722,"price":226100},
{"series":"3-комн. кв.","year":2021.758,"price":230100},
{"series":"3-комн. кв.","year":2021.794,"price":235800},
{"series":"3-комн. кв.","year":2021.829,"price":239800},
{"series":"3-комн. кв.","year":2021.872,"price":240600},
{"series":"3-комн. кв.","year":2021.922,"price":240600},
{"series":"3-комн. кв.","year":2021.972,"price":242200},
{"series":"3-комн. кв.","year":2022.007,"price":244000},
{"series":"3-комн. кв.","year":2022.043,"price":247900},
{"series":"3-комн. кв.","year":2022.078,"price":259900},
{"series":"3-комн. кв.","year":2022.114,"price":255000},
{"series":"3-комн. кв.","year":2022.149,"price":268000},
{"series":"3-комн. кв.","year":2022.171,"price":276800},
{"series":"3-комн. кв.","year":2022.192,"price":282500},
{"series":"3-комн. кв.","year":2022.221,"price":284000},
{"series":"3-комн. кв.","year":2022.256,"price":280800},
{"series":"3-комн. кв.","year":2022.292,"price":282500},
{"series":"3-комн. кв.","year":2022.327,"price":276000},
{"series":"3-комн. кв.","year":2022.363,"price":276800},
{"series":"3-комн. кв.","year":2022.399,"price":272000},
{"series":"3-комн. кв.","year":2022.434,"price":268800},
{"series":"3-комн. кв.","year":2022.456,"price":264700},
{"series":"3-комн. кв.","year":2022.505,"price":263200},
{"series":"3-комн. кв.","year":2022.548,"price":262300},
{"series":"3-комн. кв.","year":2022.598,"price":261500},
{"series":"3-комн. кв.","year":2022.648,"price":260800},
{"series":"3-комн. кв.","year":2022.683,"price":259900},
{"series":"3-комн. кв.","year":2022.719,"price":258400},
{"series":"3-комн. кв.","year":2022.754,"price":256000},
{"series":"3-комн. кв.","year":2022.79,"price":253600},
{"series":"3-комн. кв.","year":2022.826,"price":254300},
{"series":"3-комн. кв.","year":2022.868,"price":255000},
{"series":"3-комн. кв.","year":2022.918,"price":255000},
{"series":"3-комн. кв.","year":2022.954,"price":256700},
{"series":"3-комн. кв.","year":2022.989,"price":260800},
{"series":"3-комн. кв.","year":2023.011,"price":255000},
{"series":"3-комн. кв.","year":2023.046,"price":253600},
{"series":"3-комн. кв.","year":2023.096,"price":255000},
{"series":"3-комн. кв.","year":2023.132,"price":252600},
{"series":"3-комн. кв.","year":2023.181,"price":253600},
{"series":"3-комн. кв.","year":2023.217,"price":255000},
{"series":"3-комн. кв.","year":2023.253,"price":253600},
{"series":"3-комн. кв.","year":2023.295,"price":256000},
{"series":"3-комн. кв.","year":2023.331,"price":257500},
{"series":"3-комн. кв.","year":2023.359,"price":259900},
{"series":"3-комн. кв.","year":2023.374,"price":269600},
{"series":"3-комн. кв.","year":2023.402,"price":268000},
{"series":"3-комн. кв.","year":2023.438,"price":267200},
{"series":"3-комн. кв.","year":2023.473,"price":263200},
{"series":"3-комн. кв.","year":2023.502,"price":267200},
{"series":"3-комн. кв.","year":2023.523,"price":274400},
{"series":"3-комн. кв.","year":2023.559,"price":276000},
{"series":"3-комн. кв.","year":2023.594,"price":276800},
{"series":"3-комн. кв.","year":2023.63,"price":277600},
{"series":"3-комн. кв.","year":2023.665,"price":278400},
{"series":"3-комн. кв.","year":2023.687,"price":282500},
{"series":"3-комн. кв.","year":2023.715,"price":280000},
{"series":"3-комн. кв.","year":2023.751,"price":281600},
{"series":"3-комн. кв.","year":2023.786,"price":283200},
{"series":"3-комн. кв.","year":2023.822,"price":280800},
{"series":"3-комн. кв.","year":2023.858,"price":279200},
{"series":"3-комн. кв.","year":2023.893,"price":276000},
{"series":"3-комн. кв.","year":2023.915,"price":272800},
{"series":"3-комн. кв.","year":2023.936,"price":269600},
{"series":"3-комн. кв.","year":2023.964,"price":268800},
{"series":"3-комн. кв.","year":2023.986,"price":276000},
{"series":"3-комн. кв.","year":2024.007,"price":284000},
{"series":"3-комн. кв.","year":2024.043,"price":283200},
{"series":"3-комн. кв.","year":2024.078,"price":284000},
{"series":"3-комн. кв.","year":2024.114,"price":282500},
{"series":"3-комн. кв.","year":2024.149,"price":280000},
{"series":"3-комн. кв.","year":2024.178,"price":282500},
{"series":"3-комн. кв.","year":2024.214,"price":285600},
{"series":"3-комн. кв.","year":2024.249,"price":285600},
{"series":"3-комн. кв.","year":2024.285,"price":284000},
{"series":"3-комн. кв.","year":2024.32,"price":288000},
{"series":"3-комн. кв.","year":2024.356,"price":289700},
{"series":"3-комн. кв.","year":2024.391,"price":288800},
{"series":"3-комн. кв.","year":2024.427,"price":289700},
{"series":"3-комн. кв.","year":2024.463,"price":291200},
{"series":"3-комн. кв.","year":2024.498,"price":290500},
{"series":"3-комн. кв.","year":2024.534,"price":292100},
{"series":"3-комн. кв.","year":2024.555,"price":289700},
{"series":"3-комн. кв.","year":2024.577,"price":283200},
{"series":"3-комн. кв.","year":2024.605,"price":268800},
{"series":"3-комн. кв.","year":2024.641,"price":264700},
{"series":"3-комн. кв.","year":2024.676,"price":256700},
{"series":"3-комн. кв.","year":2024.698,"price":251200},
{"series":"3-комн. кв.","year":2024.712,"price":259900},
{"series":"3-комн. кв.","year":2024.747,"price":262300},
{"series":"3-комн. кв.","year":2024.783,"price":268800},
{"series":"3-комн. кв.","year":2024.819,"price":260800},
{"series":"3-комн. кв.","year":2024.84,"price":276800},
{"series":"3-комн. кв.","year":2024.861,"price":266400},
{"series":"3-комн. кв.","year":2024.897,"price":269600},
{"series":"3-комн. кв.","year":2024.932,"price":271200},
{"series":"3-комн. кв.","year":2024.968,"price":273600},
{"series":"3-комн. кв.","year":2025.004,"price":284000},
{"series":"3-комн. кв.","year":2025.039,"price":281600},
{"series":"3-комн. кв.","year":2025.075,"price":284000},
{"series":"3-комн. кв.","year":2025.11,"price":277600},
{"series":"3-комн. кв.","year":2025.139,"price":271200},
{"series":"3-комн. кв.","year":2025.16,"price":298400},
{"series":"3-комн. кв.","year":2025.181,"price":285600},
{"series":"3-комн. кв.","year":2025.21,"price":280800},
{"series":"3-комн. кв.","year":2025.246,"price":293600},
{"series":"3-комн. кв.","year":2025.267,"price":279200},
{"series":"3-комн. кв.","year":2025.302,"price":285600},
{"series":"3-комн. кв.","year":2025.338,"price":291200},
{"series":"3-комн. кв.","year":2025.359,"price":286400},
{"series":"3-комн. кв.","year":2025.395,"price":283200},
{"series":"3-комн. кв.","year":2025.423,"price":287300},
{"series":"3-комн. кв.","year":2025.452,"price":276800},
{"series":"3-комн. кв.","year":2025.473,"price":288000},
{"series":"3-комн. кв.","year":2025.488,"price":314600},
{"series":"3-комн. кв.","year":2025.509,"price":303300},
{"series":"3-комн. кв.","year":2025.523,"price":319400}
]},
"layer":[
 {"data":{"name":"last"},"transform":[{"filter":"datum.price > 310000"}],
  "mark":{"type":"text","fontSize":22,"fontWeight":"bold","font":"DejaVu Sans","dy":-31,"baseline":"middle","align":"center"},
  "encoding":{
   "x":{"field":"year","type":"quantitative","axis":null,"scale":{"domain":[2015.974,2026.009],"nice":false,"zero":false}},
   "y":{"field":"price","type":"quantitative","axis":null,"scale":{"domain":[118200,350600],"nice":false,"zero":false}},
   "text":{"field":"label"},
   "fill":{"field":"label","type":"nominal","legend":null,"scale":{"domain":["297 150 ₽","326 396 ₽","320 560 ₽"],"range":["#7e03a8","#cc4778","#f89540"]}}}},
 {"data":{"name":"last"},"transform":[{"filter":"datum.price < 310000"}],
  "mark":{"type":"text","fontSize":18,"fontWeight":"bold","font":"DejaVu Sans","dy":-35,"baseline":"middle","align":"center"},
  "encoding":{
   "x":{"field":"year","type":"quantitative","axis":null,"scale":{"domain":[2015.974,2026.009],"nice":false,"zero":false}},
   "y":{"field":"price","type":"quantitative","axis":null,"scale":{"domain":[118200,350600],"nice":false,"zero":false}},
   "text":{"field":"label"},
   "fill":{"field":"label","type":"nominal","legend":null,"scale":{"domain":["297 150 ₽","326 396 ₽","320 560 ₽"],"range":["#7e03a8","#cc4778","#f89540"]}}}},
 {"data":{"name":"prices"},
  "mark":{"type":"line","strokeWidth":3.6,"opacity":0.95},
  "encoding":{
   "x":{"field":"year","type":"quantitative","scale":{"domain":[2015.974,2026.009],"nice":false,"zero":false},
     "axis":{"orient":"bottom","grid":true,"gridDash":[8,4],"gridColor":"#d0d0d0","gridWidth":2,"labelFlush":false,"labelOverlap":false,"values":[2016,2017,2018,2019,2020,2021,2022,2023,2024,2025,2026],"format":"d","labelPadding":26,"title":"Дата","titlePadding":9}},
   "y":{"field":"price","type":"quantitative","scale":{"domain":[118200,350600],"nice":false,"zero":false},
     "axis":{"orient":"left","grid":true,"gridDash":[8,4],"gridColor":"#d0d0d0","gridWidth":2,"labelFlush":false,"labelOverlap":false,"values":[150000,200000,250000,300000,350000],"format":",d","labelPadding":27,"title":"Цена за м², ₽","titlePadding":12}},
   "color":{"field":"series","type":"nominal","scale":{"domain":["1-комн. кв.","2-комн. кв.","3-комн. кв."],"range":["#5b1aaa","#9829b3","#c04596"]},"legend":{"title":null}},
   "strokeDash":{"field":"series","type":"nominal","scale":{"domain":["1-комн. кв.","2-комн. кв.","3-комн. кв."],"range":[[1,0],[22,6,3.5,6],[22,6,3.5,6]]},"legend":{"title":null}}}},
 {"data":{"name":"last"},
  "mark":{"type":"point","shape":"circle","filled":true,"size":480,"stroke":"white","strokeWidth":2.5,"opacity":1},
  "encoding":{
   "x":{"field":"year","type":"quantitative","scale":{"domain":[2015.974,2026.009],"nice":false,"zero":false},
     "axis":{"orient":"top","labels":false,"ticks":false,"grid":false,"domain":true,"domainColor":"#888888","domainWidth":4.5,"title":null,"zindex":1}},
   "y":{"field":"price","type":"quantitative","axis":null,"scale":{"domain":[118200,350600],"nice":false,"zero":false}},
   "fill":{"field":"label","type":"nominal","legend":null,"scale":{"domain":["297 150 ₽","326 396 ₽","320 560 ₽"],"range":["#7e03a8","#cc4778","#f89540"]}}}}
],
"resolve":{"axis":{"x":"independent","y":"independent"}}
}
